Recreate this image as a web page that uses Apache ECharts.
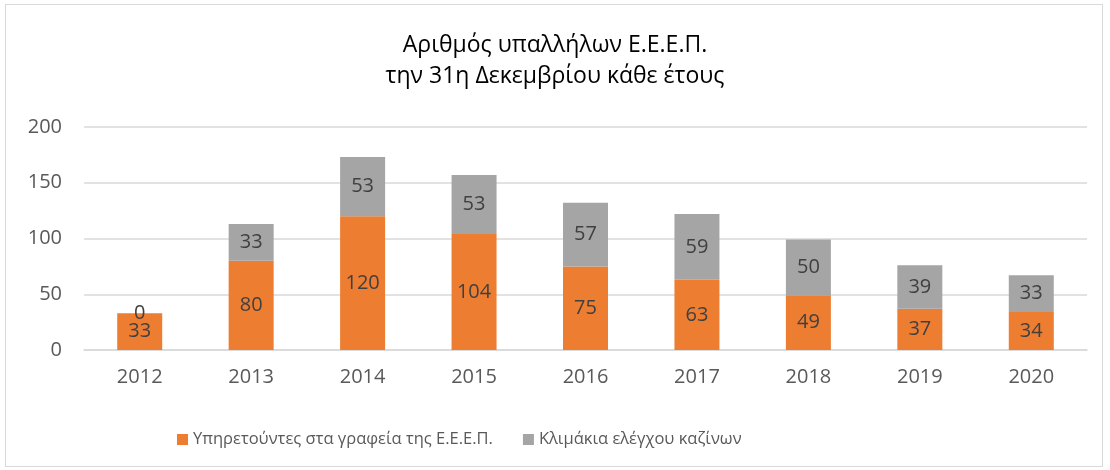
<!DOCTYPE html>
<html><head><meta charset="utf-8">
<script src="https://cdn.jsdelivr.net/npm/echarts@6/dist/echarts.min.js"></script>
<style>
html,body{margin:0;padding:0;background:#fff;}
#frame{position:absolute;left:5px;top:4px;width:1096px;height:461px;border:1px solid #d9d9d9;}
#c{position:absolute;left:0;top:0;width:1110px;height:470px;}
</style></head>
<body><div id="frame"></div><div id="c"></div>
<script>
const titleLines = ["Αριθμός υπαλλήλων Ε.Ε.Ε.Π.", "την 31η Δεκεμβρίου κάθε έτους"];
const categories = ["2012","2013","2014","2015","2016","2017","2018","2019","2020"];
const seriesNames = ["Υπηρετούντες στα γραφεία της Ε.Ε.Ε.Π.", "Κλιμάκια ελέγχου καζίνων"];
const officeStaff = [33,80,120,104,75,63,49,37,34];
const casinoTeams = [0,33,53,53,57,59,50,39,33];
const colors = ["#ed7d31","#a5a5a5"];
const FONT = "'Open Sans', 'Noto Sans', sans-serif";
const chart = echarts.init(document.getElementById('c'));
const lbl = {show:true, position:'inside', color:'#404040', fontSize:20, fontFamily:FONT};
chart.setOption({
  animation:false,
  title:{text:titleLines.join('\n'), left:'center', top:25, textStyle:{fontSize:23, fontWeight:'normal', color:'#000', fontFamily:FONT, lineHeight:31}},
  grid:{left:84, right:23, top:127, bottom:120, containLabel:false},
  legend:{left:172, top:426, itemWidth:11, itemHeight:11, itemGap:30, icon:'rect',
    textStyle:{fontSize:16.5, color:'#595959', fontFamily:FONT}, data:seriesNames},
  xAxis:{type:'category', data:categories, axisTick:{show:false},
    axisLine:{lineStyle:{color:'#d9d9d9', width:1.5}},
    axisLabel:{fontSize:20, color:'#595959', fontFamily:FONT, margin:17}},
  yAxis:{type:'value', min:0, max:200, interval:50, axisLine:{show:false}, axisTick:{show:false},
    splitLine:{lineStyle:{color:'#d9d9d9', width:1.5}},
    axisLabel:{fontSize:20, color:'#595959', fontFamily:FONT, margin:22}},
  series:[
    {name:seriesNames[0], type:'bar', stack:'a', data:officeStaff, barWidth:45, itemStyle:{color:colors[0]}, label:lbl},
    {name:seriesNames[1], type:'bar', stack:'a', data:casinoTeams, barWidth:45, itemStyle:{color:colors[1]}, label:lbl}
  ]
});
</script></body></html>
